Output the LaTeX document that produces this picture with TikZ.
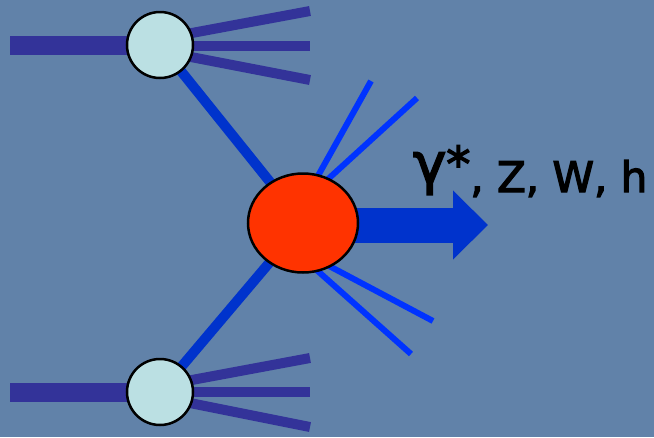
\documentclass[tikz,border=0pt]{standalone}
\usepackage{fontspec}
\newfontfamily\dv{DejaVu Sans}[FakeBold=3]
\usetikzlibrary{shapes.geometric,arrows.meta}
\definecolor{bgc}{RGB}{97,130,169}
\definecolor{barc}{RGB}{51,51,153}
\definecolor{connc}{RGB}{0,51,204}
\definecolor{thinc}{RGB}{0,51,255}
\definecolor{redc}{RGB}{255,51,0}
\definecolor{lightc}{RGB}{187,224,227}
\pgfdeclarelayer{back}
\pgfdeclarelayer{under}
\pgfsetlayers{back,under,main}
\tikzset{
  smallball/.style={circle,draw=black,line width=2.5pt,fill=lightc,minimum size=66pt,inner sep=0pt},
  bigball/.style={ellipse,draw=black,line width=2.5pt,fill=redc,minimum width=110pt,minimum height=99pt,inner sep=0pt},
  bar/.style={barc,line width=19pt},
  fanline/.style={barc,line width=10pt},
  conn/.style={connc,line width=10pt},
  thin/.style={thinc,line width=6pt}
}
\begin{document}
\begin{tikzpicture}[x=1pt,y=-1pt]
\begin{pgfonlayer}{back}
\fill[bgc] (0,0) rectangle (654,437);
\end{pgfonlayer}
\useasboundingbox (0,0) rectangle (654,437);
\node[smallball] (t) at (160,45) {};
\node[smallball] (b) at (160,392) {};
\node[bigball] (r) at (303,223) {};
\coordinate (tl) at (10,45);
\coordinate (t1s) at (165,38); \coordinate (t1e) at (310,11);
\coordinate (t2s) at (165,46); \coordinate (t2e) at (310,46);
\coordinate (t3s) at (165,52); \coordinate (t3e) at (310,80);
\coordinate (bl) at (10,392);
\coordinate (b1s) at (165,385); \coordinate (b1e) at (310,358);
\coordinate (b2s) at (165,392); \coordinate (b2e) at (310,392);
\coordinate (b3s) at (165,398); \coordinate (b3e) at (310,427);
\coordinate (ra) at (305,199); \coordinate (rae) at (371,81);
\coordinate (rb) at (304,201); \coordinate (rbe) at (417,98);
\coordinate (rc) at (293,249); \coordinate (rce) at (411,354);
\coordinate (rd) at (299,250); \coordinate (rde) at (433,321);
\coordinate (tip) at (488,225);
\begin{pgfonlayer}{under}
\draw[bar] (tl) -- (t.center);
\draw[bar] (bl) -- (b.center);
\draw[fanline] (t1s) -- (t1e);
\draw[fanline] (t2s) -- (t2e);
\draw[fanline] (t3s) -- (t3e);
\draw[fanline] (b1s) -- (b1e);
\draw[fanline] (b2s) -- (b2e);
\draw[fanline] (b3s) -- (b3e);
\draw[conn] (t.center) -- (r.center);
\draw[conn] (b.center) -- (r.center);
\draw[thin] (ra) -- (rae);
\draw[thin] (rb) -- (rbe);
\draw[thin] (rc) -- (rce);
\draw[thin] (rd) -- (rde);
\draw[connc,line width=35pt,-{Triangle[width=67pt,length=35pt]}] (r.center |- tip) -- (tip);
\end{pgfonlayer}
\node[anchor=base west,inner sep=0pt,font=\dv\fontsize{42}{46}\selectfont] (lab) at (413,192)
  {{\fontsize{56}{60}\selectfont\raisebox{9pt}{γ}}{\fontsize{48}{50}\selectfont\raisebox{11pt}{*}}, Z, W, h};
\end{tikzpicture}
\end{document}
